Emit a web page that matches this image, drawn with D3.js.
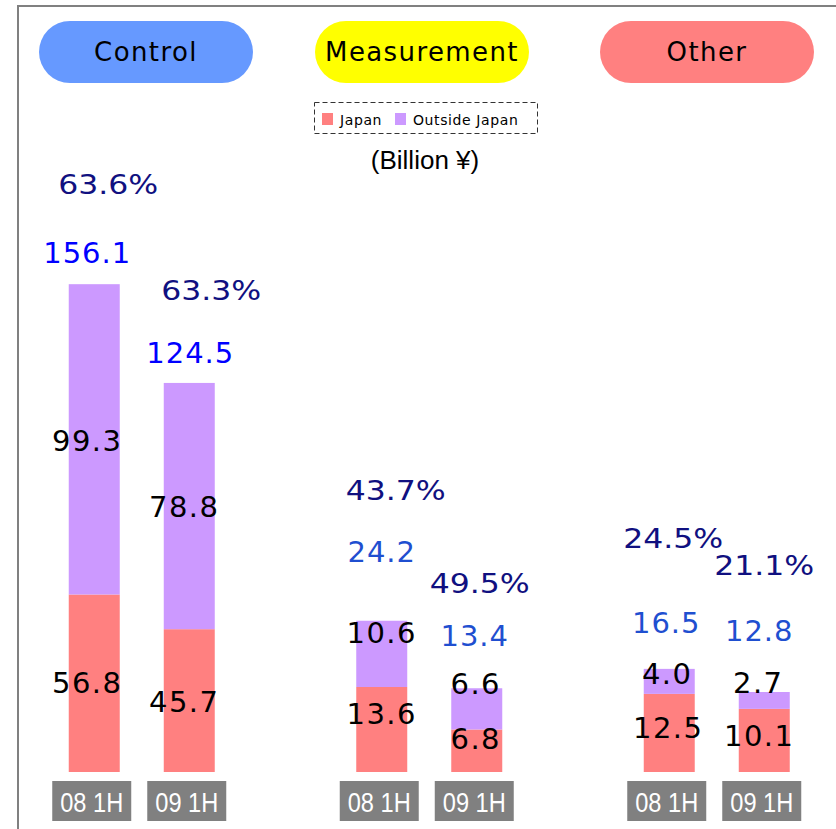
<!DOCTYPE html>
<html>
<head>
<meta charset="utf-8">
<script src="https://cdn.jsdelivr.net/npm/d3@7"></script>
<style>
  body { margin: 0; background: #fff; }
  svg { display: block; }
</style>
</head>
<body>
<div id="chart"></div>
<script>
// data
const groups = ['Control', 'Measurement', 'Other'];
const periods = ['08 1H', '09 1H'];
const japan = [[56.8, 45.7], [13.6, 6.8], [12.5, 10.1]];
const outside = [[99.3, 78.8], [10.6, 6.6], [4.0, 2.7]];
const totals = [[156.1, 124.5], [24.2, 13.4], [16.5, 12.8]];
const outsideShare = [[63.6, 63.3], [43.7, 49.5], [24.5, 21.1]];
const seriesNames = ['Japan', 'Outside Japan'];

// layout / look
const W = 836, H = 829;
const baseY = 772;
const barW = 51;
const colors = { Japan: '#FF8080', 'Outside Japan': '#CC99FF' };
const pillColors = ['#6699FF', '#FFFF00', '#FF8080'];
const pillCx = [146, 422, 707];
const totalColors = [['#0000FF', '#0000FF'], ['#1F4FD0', '#1F4FD0'], ['#1F4FD0', '#1F4FD0']];
// manual label nudges (as placed in the original slide)
const totalNudge = [[[-7, -21], [1, -20]], [[0, -59], [-2, -42]], [[-3, -36], [-5, -51]]];
const pctNudge = [[[14, -90], [22, -83]], [[14, -121], [3, -95]], [[4, -121], [0, -117]]];
const japanNudge = [[[-7, 10], [-5, 11]], [[0, -6], [-1, -2]], [[-1, 5], [-5, 6]]];
const outsideNudge = [[[-7, 12], [-5, 11]], [[0, -11], [-1, -15]], [[-2, 3], [-6, -7]]];

const svg = d3.select('#chart').append('svg')
  .attr('width', W).attr('height', H);

// frame
svg.append('rect')
  .attr('x', 18).attr('y', 6)
  .attr('width', 900).attr('height', 900)
  .attr('fill', 'none').attr('stroke', '#808080').attr('stroke-width', 2);

// scales
const xGroup = d3.scaleBand().domain(groups).range([-2, 860.5]);
const xPeriod = d3.scalePoint().domain(periods).range([0, xGroup.bandwidth()]).padding(1.013);
// Control drawn at half the scale of the other two groups
const yCtrl = d3.scaleLinear().domain([0, 160]).range([baseY, 272]);
const yRest = d3.scaleLinear().domain([0, 80]).range([baseY, 272]);

const rows = [];
groups.forEach((g, gi) => {
  periods.forEach((p, pi) => {
    rows.push({ g, gi, p, pi,
      jp: japan[gi][pi], os: outside[gi][pi],
      total: totals[gi][pi], share: outsideShare[gi][pi],
      y: gi === 0 ? yCtrl : yRest,
      cx: xGroup(g) + xPeriod(p) });
  });
});

// header pills
const pills = svg.append('g');
groups.forEach((g, i) => {
  pills.append('rect')
    .attr('x', pillCx[i] - 107).attr('y', 21)
    .attr('width', 214).attr('height', 62)
    .attr('rx', 31).attr('ry', 31)
    .attr('fill', pillColors[i]);
  pills.append('text')
    .attr('x', pillCx[i]).attr('y', 61)
    .attr('text-anchor', 'middle')
    .attr('font-family', 'DejaVu Sans')
    .attr('font-size', '26px')
    .attr('letter-spacing', '1.4px')
    .attr('fill', '#000')
    .text(g);
});

// legend
const lg = svg.append('g');
lg.append('rect')
  .attr('x', 314.5).attr('y', 102.5).attr('width', 223).attr('height', 31)
  .attr('fill', 'none').attr('stroke', '#333').attr('stroke-width', 1)
  .attr('stroke-dasharray', '5,3');
const legX = [322, 395];
seriesNames.forEach((s, i) => {
  lg.append('rect')
    .attr('x', legX[i]).attr('y', 113).attr('width', 11).attr('height', 12)
    .attr('fill', colors[s]);
  lg.append('text')
    .attr('x', legX[i] + 18).attr('y', 125)
    .attr('font-family', 'DejaVu Sans')
    .attr('font-size', '14px')
    .attr('letter-spacing', '0.6px')
    .attr('fill', '#000')
    .text(s);
});
svg.append('text')
  .attr('x', 425).attr('y', 169)
  .attr('text-anchor', 'middle')
  .attr('font-family', 'Liberation Sans')
  .attr('font-size', '26px')
  .attr('fill', '#000')
  .text('(Billion ¥)');

// bars
const bars = svg.append('g');
bars.selectAll('rect.jp').data(rows).enter().append('rect')
  .attr('class', 'jp')
  .attr('x', d => d.cx - barW / 2)
  .attr('y', d => d.y(d.jp))
  .attr('width', barW)
  .attr('height', d => d.y(0) - d.y(d.jp))
  .attr('fill', colors.Japan);
bars.selectAll('rect.os').data(rows).enter().append('rect')
  .attr('class', 'os')
  .attr('x', d => d.cx - barW / 2)
  .attr('y', d => d.y(d.jp + d.os))
  .attr('width', barW)
  .attr('height', d => d.y(d.jp) - d.y(d.jp + d.os))
  .attr('fill', colors['Outside Japan']);

// labels
const labels = svg.append('g')
  .attr('font-family', 'DejaVu Sans')
  .attr('text-anchor', 'middle');

labels.selectAll('text.jp').data(rows).enter().append('text')
  .attr('x', d => d.cx + japanNudge[d.gi][d.pi][0])
  .attr('y', d => (d.y(0) + d.y(d.jp)) / 2 + japanNudge[d.gi][d.pi][1])
  .attr('font-size', '29px').attr('letter-spacing', '1.5px')
  .attr('fill', '#000')
  .text(d => d.jp.toFixed(1));

labels.selectAll('text.os').data(rows).enter().append('text')
  .attr('x', d => d.cx + outsideNudge[d.gi][d.pi][0])
  .attr('y', d => (d.y(d.jp) + d.y(d.jp + d.os)) / 2 + outsideNudge[d.gi][d.pi][1])
  .attr('font-size', '29px').attr('letter-spacing', '1.5px')
  .attr('fill', '#000')
  .text(d => d.os.toFixed(1));

labels.selectAll('text.tot').data(rows).enter().append('text')
  .attr('x', d => d.cx + totalNudge[d.gi][d.pi][0])
  .attr('y', d => d.y(d.total) + totalNudge[d.gi][d.pi][1])
  .attr('font-size', '29px').attr('letter-spacing', '1px')
  .attr('fill', d => totalColors[d.gi][d.pi])
  .text(d => d.total.toFixed(1));

labels.selectAll('text.pct').data(rows).enter().append('text')
  .attr('x', d => d.cx + pctNudge[d.gi][d.pi][0] - 50)
  .attr('y', d => d.y(d.total) + pctNudge[d.gi][d.pi][1])
  .attr('text-anchor', 'start')
  .attr('font-size', '27px')
  .attr('textLength', 100).attr('lengthAdjust', 'spacingAndGlyphs')
  .attr('fill', '#101080')
  .text(d => d.share.toFixed(1) + '%');

// period boxes
const tick = svg.append('g');
tick.selectAll('rect').data(rows).enter().append('rect')
  .attr('x', d => d.cx - 42).attr('y', 781)
  .attr('width', 79).attr('height', 40)
  .attr('fill', '#808080');
tick.selectAll('text').data(rows).enter().append('text')
  .attr('x', d => d.cx - 34).attr('y', 812)
  .attr('font-family', 'Liberation Sans')
  .attr('font-size', '27px')
  .attr('textLength', 63).attr('lengthAdjust', 'spacingAndGlyphs')
  .attr('fill', '#fff')
  .text(d => d.p);
</script>
</body>
</html>
